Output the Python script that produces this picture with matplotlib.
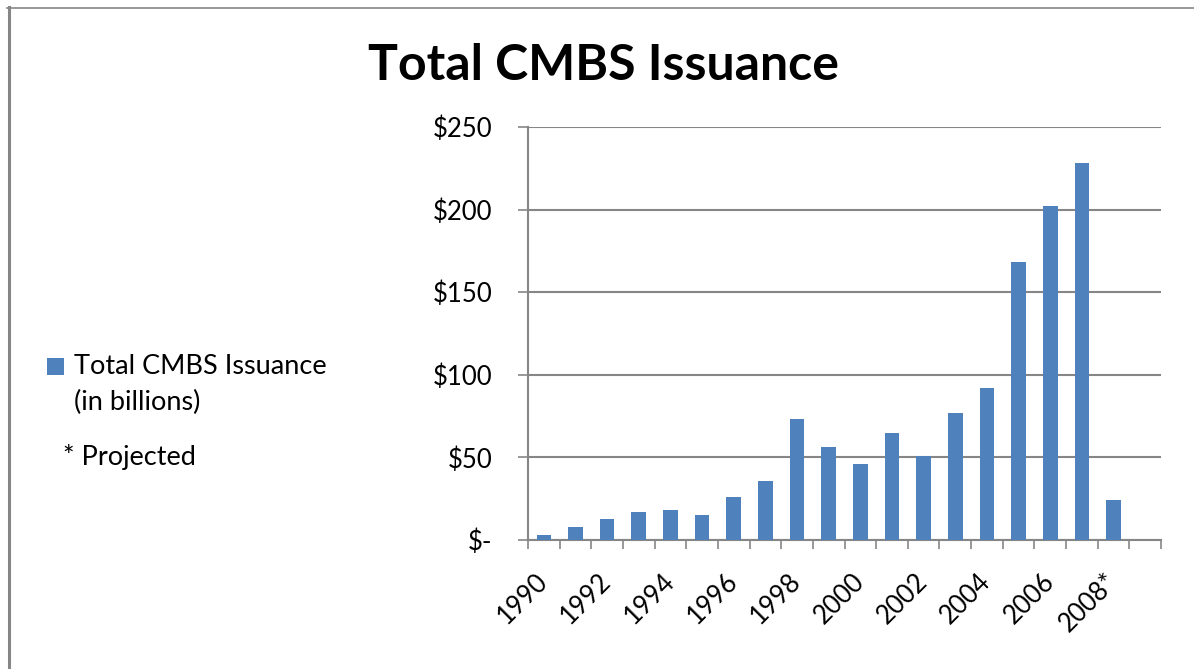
import matplotlib
matplotlib.use("Agg")
import matplotlib.pyplot as plt
from matplotlib.patches import Rectangle
from matplotlib.lines import Line2D
import numpy as np

# ---- data ----
years = ["1990", "1991", "1992", "1993", "1994", "1995", "1996", "1997", "1998", "1999",
         "2000", "2001", "2002", "2003", "2004", "2005", "2006", "2007", "2008*", ""]
issuance = [3, 8, 13, 17, 18, 15, 26, 36, 73, 56,
            46, 65, 51, 77, 92, 168, 202, 228, 24, None]
tick_labels = ["1990", "1992", "1994", "1996", "1998", "2000", "2002", "2004", "2006", "2008*"]
y_ticks = [0, 50, 100, 150, 200, 250]
y_tick_labels = ["$-", "$50", "$100", "$150", "$200", "$250"]

title = "Total CMBS Issuance"
legend_label = ["Total CMBS Issuance", "(in billions)"]
note = "* Projected"

BAR = "#4F81BD"
GRID = "#868686"
FONT = "Lato"
TICK_FS = 18.5
LEG_FS = 19.5

W, H = 1194, 669
fig = plt.figure(figsize=(W / 100, H / 100), dpi=100)
fig.patch.set_facecolor("white")

def px(x, y):
    return x / W, 1 - y / H

l, r, t, b = 528, 1161, 127, 540
ax = fig.add_axes([l / W, 1 - b / H, (r - l) / W, (b - t) / H])

x = np.arange(len(years))
vals = [v if v is not None else 0 for v in issuance]
bars = ax.bar(x, vals, width=0.46, color=BAR, zorder=3)

ax.set_xlim(-0.5, len(years) - 0.5)
ax.set_ylim(0, 250)

ax.set_yticks(y_ticks)
ax.set_yticklabels(y_tick_labels, fontfamily=FONT, fontsize=TICK_FS)
ax.yaxis.grid(True, color=GRID, linewidth=1.5, zorder=0)
ax.tick_params(axis="y", length=7.5, width=1.2, color=GRID, pad=18)

# category boundary ticks
ax.set_xticks(np.arange(-0.5, len(years), 1.0), minor=True)
ax.tick_params(axis="x", which="minor", length=6.5, width=1.2, color=GRID)
major_pos = [years.index(lbl) for lbl in tick_labels]
ax.set_xticks(major_pos)
ax.set_xticklabels(tick_labels, fontfamily=FONT, fontsize=TICK_FS,
                   rotation=45, ha="right", va="center", rotation_mode="anchor")
ax.tick_params(axis="x", which="major", length=0, pad=27)

for s in ["top", "right"]:
    ax.spines[s].set_visible(False)
for s in ["left", "bottom"]:
    ax.spines[s].set_color(GRID)
    ax.spines[s].set_linewidth(1.5)
ax.set_axisbelow(True)

# title
tx, ty = px(604, 80)
fig.text(tx, ty, title, ha="center", va="baseline", fontfamily=FONT,
         fontweight="bold", fontsize=36)

# legend (manual)
sx0, sy0 = px(47, 375)
fig.patches.append(Rectangle((sx0, sy0), 17 / W, 17 / H, transform=fig.transFigure,
                             facecolor=BAR, edgecolor="none"))
fig.text(*px(74, 367), legend_label[0], ha="left", va="center", fontfamily=FONT, fontsize=LEG_FS)
fig.text(*px(74, 402), legend_label[1], ha="left", va="center", fontfamily=FONT, fontsize=LEG_FS)
fig.text(*px(63, 457), note, ha="left", va="center", fontfamily=FONT, fontsize=LEG_FS)

# outer frame (top + left visible)
fig.lines.append(Line2D([8.5 / W, 8.5 / W], [0, 1 - 7 / H], transform=fig.transFigure,
                        color=GRID, linewidth=2.2))
fig.lines.append(Line2D([7 / W, 1], [1 - 7.5 / H, 1 - 7.5 / H], transform=fig.transFigure,
                        color=GRID, linewidth=1.2))

fig.savefig("out.png", dpi=100, facecolor="white")
